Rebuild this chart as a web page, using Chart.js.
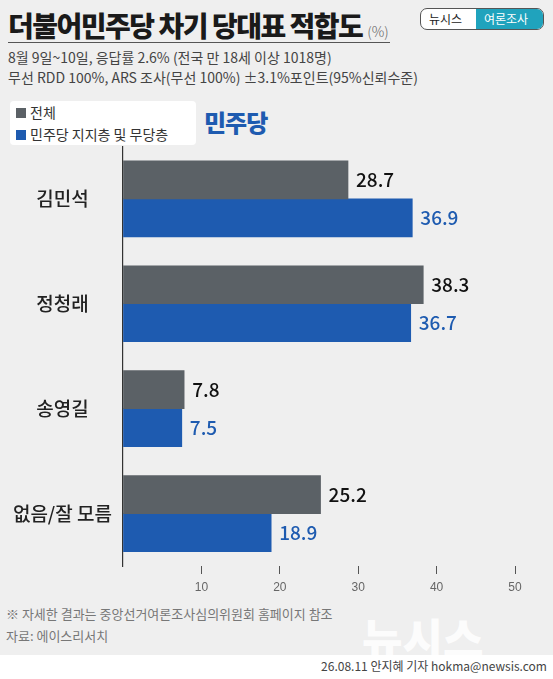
<!DOCTYPE html>
<html><head><meta charset="utf-8">
<script src="https://cdn.jsdelivr.net/npm/chart.js@4"></script>
<style>
body{margin:0;width:553px;height:679px;background:#fff;font-family:"Noto Sans CJK KR",sans-serif;overflow:hidden;position:relative}
#bg{position:absolute;left:0;top:0;width:553px;height:655px;background:#efefef}
.t{position:absolute;white-space:nowrap}
#wrap{position:absolute;left:0;top:132px;width:553px;height:468px}
</style></head><body>
<div id="bg"></div>
<div class="t" style="left:8px;top:5px;font-size:28px;font-weight:900;color:#1a1a1a;letter-spacing:-1.5px">더불어민주당 차기 당대표 적합도 <span style="font-size:14px;font-weight:300;color:#666;letter-spacing:0">(%)</span></div>
<div class="t" style="left:8px;top:42px;width:382px;border-top:1.5px solid #555"></div>
<div class="t" style="left:420px;top:8px;width:122px;height:20px;border:1px solid #555;border-radius:7px;background:#fff;font-size:12px;overflow:hidden"><span style="position:absolute;left:8px;top:1px;color:#222">뉴시스</span><span style="position:absolute;left:55px;top:0;width:70px;height:20px;background:#20a3bd;color:#fff;padding-left:8px;line-height:20px">여론조사</span></div>
<div class="t" style="left:8px;top:47px;font-size:14px;color:#444;line-height:20px">8월 9일~10일, 응답률 2.6% (전국 만 18세 이상 1018명)<br>무선 RDD 100%, ARS 조사(무선 100%) ±3.1%포인트(95%신뢰수준)</div>
<div class="t" style="left:10px;top:101px;width:180px;height:44px;background:#fff;border-radius:4px;font-size:14px;color:#333;line-height:22px;padding-left:6px">
<span style="display:inline-block;width:10px;height:10px;background:#5b6166;margin-right:4px"></span>전체<br>
<span style="display:inline-block;width:10px;height:10px;background:#1e5bb0;margin-right:4px"></span>민주당 지지층 및 무당층</div>
<div class="t" style="left:204px;top:104px;font-size:24px;font-weight:900;color:#1e5bb0;letter-spacing:-1px">민주당</div>
<div id="wrap"><canvas id="c"></canvas></div>
<div class="t" style="left:6px;top:603px;font-size:13px;color:#777;line-height:22px">※ 자세한 결과는 중앙선거여론조사심의위원회 홈페이지 참조<br>자료: 에이스리서치</div>
<div class="t" style="left:362px;top:605px;font-size:44px;font-weight:900;color:#fff;opacity:.85">뉴시스</div>
<div class="t" style="right:6px;top:657px;font-size:12px;color:#444">26.08.11 안지혜 기자 hokma@newsis.com</div>
<script>
const categories = ['김민석', '정청래', '송영길', '없음/잘 모름'];
const totalValues = [28.7, 38.3, 7.8, 25.2];
const supporterValues = [36.9, 36.7, 7.5, 18.9];
const tickLabels = [10, 20, 30, 40, 50];
const grayColor = '#5b6166';
const blueColor = '#1e5bb0';

const valueLabels = {
  id: 'valueLabels',
  afterDatasetsDraw(chart) {
    const ctx = chart.ctx;
    ctx.save();
    ctx.font = '500 19px "Noto Sans CJK KR", sans-serif';
    ctx.textBaseline = 'middle';
    chart.data.datasets.forEach((ds, i) => {
      ctx.fillStyle = i === 0 ? '#111' : blueColor;
      chart.getDatasetMeta(i).data.forEach((bar, j) => {
        ctx.fillText(ds.data[j].toFixed(1), bar.x + 8, bar.y);
      });
    });
    ctx.restore();
  }
};

new Chart(document.getElementById('c'), {
  type: 'bar',
  data: {
    labels: categories,
    datasets: [
      { label: '전체', data: totalValues, backgroundColor: grayColor, barThickness: 38 },
      { label: '민주당 지지층 및 무당층', data: supporterValues, backgroundColor: blueColor, barThickness: 38 }
    ]
  },
  options: {
    indexAxis: 'y', responsive: true, maintainAspectRatio: false, animation: false,
    layout: { padding: { top: 4, right: 38 } },
    plugins: { legend: { display: false }, tooltip: { enabled: false } },
    scales: {
      x: {
        min: 0, max: 50,
        afterFit: s => { s.height = 34; },
        afterBuildTicks: s => { s.ticks = [0].concat(tickLabels).map(v => ({ value: v })); },
        border: { display: false },
        grid: { drawOnChartArea: false, tickLength: 8, color: ctx => ctx.tick && ctx.tick.value === 0 ? 'transparent' : '#555' },
        ticks: { color: '#666', font: { size: 12 }, padding: 6, callback: v => v === 0 ? '' : v }
      },
      y: {
        afterFit: s => { s.width = 123; },
        border: { display: true, color: '#333', width: 1.2 },
        grid: { display: false },
        ticks: { color: '#222', crossAlign: 'center', font: { size: 19, weight: '500', family: '"Noto Sans CJK KR"' } }
      }
    }
  },
  plugins: [valueLabels]
});
</script>
</body></html>
